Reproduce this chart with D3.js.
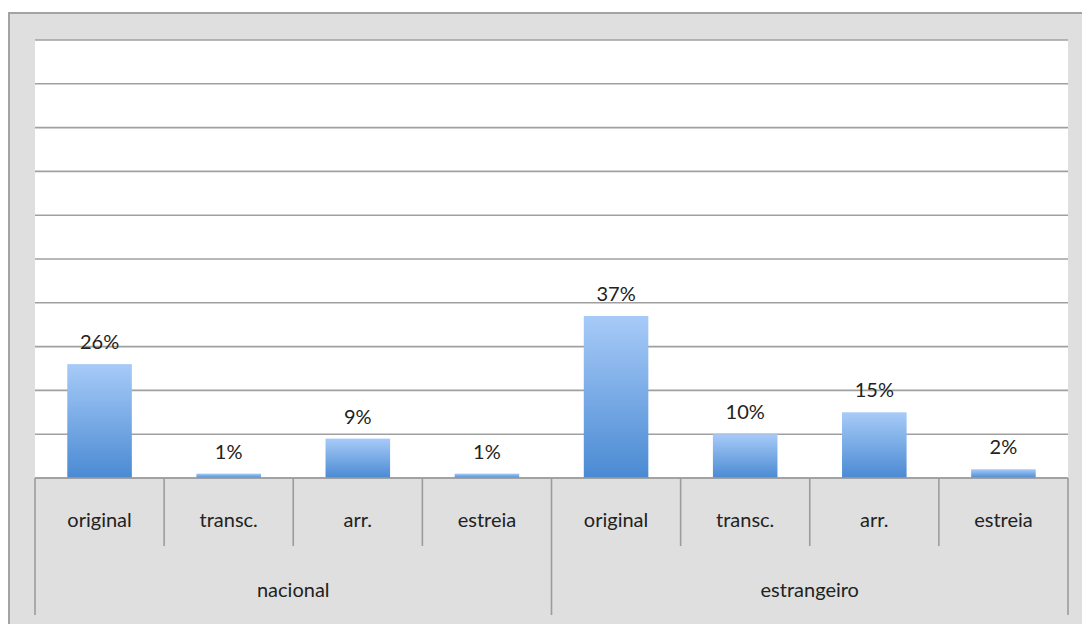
<!DOCTYPE html>
<html>
<head>
<meta charset="utf-8">
<script src="https://cdn.jsdelivr.net/npm/d3@7"></script>
<style>
  html, body { margin: 0; padding: 0; background: #ffffff; }
  svg { display: block; }
  text { font-family: Lato, "Open Sans", sans-serif; fill: #222; }
</style>
</head>
<body>
<svg id="chart" width="1082" height="624"></svg>
<script>
const groups = ["nacional", "estrangeiro"];
const subcategories = ["original", "transc.", "arr.", "estreia"];
const nacionalValues = [26, 1, 9, 1];
const estrangeiroValues = [37, 10, 15, 2];
const valueLabels = ["26%", "1%", "9%", "1%", "37%", "10%", "15%", "2%"];
const yTicks = [0, 10, 20, 30, 40, 50, 60, 70, 80, 90, 100];

const data = [];
groups.forEach((g, gi) => {
  const vals = gi === 0 ? nacionalValues : estrangeiroValues;
  subcategories.forEach((s, si) => {
    data.push({ key: g + "|" + s, group: g, sub: s, value: vals[si], label: valueLabels[gi * 4 + si] });
  });
});

const svg = d3.select("#chart");
const W = 1082, H = 624;
const plot = { left: 35, top: 40, right: 1068, bottom: 478 };
const fs = 20;

// outer frame
svg.append("rect").attr("x", 9).attr("y", 13).attr("width", W + 10).attr("height", H + 10)
  .attr("fill", "#dfdfdf").attr("stroke", "#a3a3a3").attr("stroke-width", 2);

// plot area
svg.append("rect").attr("x", plot.left).attr("y", plot.top)
  .attr("width", plot.right - plot.left).attr("height", plot.bottom - plot.top)
  .attr("fill", "#ffffff");

const x = d3.scaleBand().domain(data.map(d => d.key)).range([plot.left, plot.right]).paddingInner(0).paddingOuter(0);
const y = d3.scaleLinear().domain([0, 100]).range([plot.bottom, plot.top]);

// gridlines
svg.append("g").selectAll("line").data(yTicks).join("line")
  .attr("x1", plot.left).attr("x2", plot.right)
  .attr("y1", d => y(d)).attr("y2", d => y(d))
  .attr("stroke", "#a0a0a0").attr("stroke-width", 1.6);

// gradient
const defs = svg.append("defs");
const grad = defs.append("linearGradient").attr("id", "barGrad").attr("x1", 0).attr("y1", 0).attr("x2", 0).attr("y2", 1);
grad.append("stop").attr("offset", "0%").attr("stop-color", "#a7cbf8");
grad.append("stop").attr("offset", "100%").attr("stop-color", "#4a8ad3");

const barW = x.bandwidth() * 0.5;
svg.append("g").selectAll("rect").data(data).join("rect")
  .attr("x", d => x(d.key) + (x.bandwidth() - barW) / 2)
  .attr("y", d => y(d.value))
  .attr("width", barW)
  .attr("height", d => y(0) - y(d.value))
  .attr("fill", "url(#barGrad)");

// value labels
svg.append("g").selectAll("text").data(data).join("text")
  .attr("x", d => x(d.key) + x.bandwidth() / 2)
  .attr("y", d => y(d.value) - 15)
  .attr("text-anchor", "middle")
  .attr("font-size", fs)
  .text(d => d.label);

// category axis
const axisColor = "#9c9c9c";
svg.append("line").attr("x1", plot.left).attr("x2", plot.right).attr("y1", plot.bottom).attr("y2", plot.bottom)
  .attr("stroke", axisColor).attr("stroke-width", 1.6);

const boundaries = data.map(d => x(d.key)).concat([plot.right]);
svg.append("g").selectAll("line").data(boundaries).join("line")
  .attr("x1", d => d).attr("x2", d => d)
  .attr("y1", plot.bottom)
  .attr("y2", (d, i) => (i % 4 === 0) ? 615 : 546)
  .attr("stroke", axisColor).attr("stroke-width", 1.6);

svg.append("g").selectAll("text").data(data).join("text")
  .attr("x", d => x(d.key) + x.bandwidth() / 2)
  .attr("y", 527)
  .attr("text-anchor", "middle")
  .attr("font-size", fs)
  .text(d => d.sub);

svg.append("g").selectAll("text").data(groups).join("text")
  .attr("x", (g, gi) => (x(g + "|" + subcategories[0]) + x(g + "|" + subcategories[3]) + x.bandwidth()) / 2)
  .attr("y", 597)
  .attr("text-anchor", "middle")
  .attr("font-size", fs)
  .text(g => g);
</script>
</body>
</html>
